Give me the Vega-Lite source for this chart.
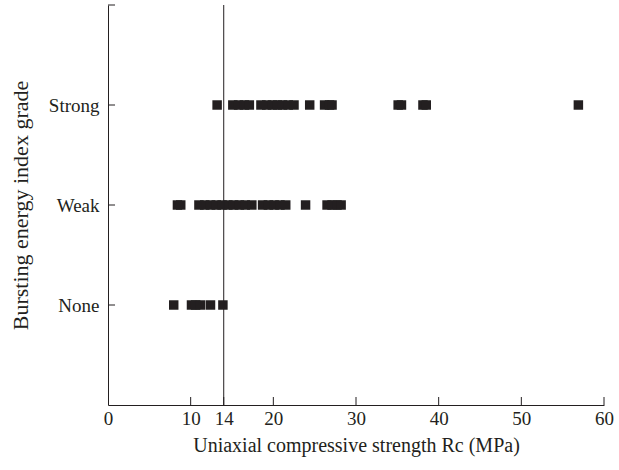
{
  "$schema": "https://vega.github.io/schema/vega-lite/v6.json",
  "width": 496,
  "height": 400,
  "autosize": {"type": "none"},
  "padding": {"left": 108, "top": 5, "right": 15, "bottom": 65},
  "background": "white",
  "config": {
    "view": {"stroke": null},
    "font": "Liberation Serif",
    "axis": {
      "domainColor": "#231f20",
      "labelColor": "#231f20",
      "titleColor": "#231f20",
      "grid": false,
      "ticks": false,
      "labelFont": "Liberation Serif",
      "titleFont": "Liberation Serif",
      "labelFontSize": 19,
      "titleFontSize": 20,
      "titleFontWeight": "normal"
    }
  },
  "layer": [
    {
      "data": {
        "values": [
          {"grade": 3, "rc": 13.2}, {"grade": 3, "rc": 15.1}, {"grade": 3, "rc": 15.8}, {"grade": 3, "rc": 16.5}, {"grade": 3, "rc": 17.1},
          {"grade": 3, "rc": 18.5}, {"grade": 3, "rc": 19.2}, {"grade": 3, "rc": 19.9}, {"grade": 3, "rc": 20.5}, {"grade": 3, "rc": 21.1},
          {"grade": 3, "rc": 21.8}, {"grade": 3, "rc": 22.5}, {"grade": 3, "rc": 24.4}, {"grade": 3, "rc": 26.2}, {"grade": 3, "rc": 26.8},
          {"grade": 3, "rc": 27.1}, {"grade": 3, "rc": 35.1}, {"grade": 3, "rc": 35.5}, {"grade": 3, "rc": 38.1}, {"grade": 3, "rc": 38.5},
          {"grade": 3, "rc": 56.9},
          {"grade": 2, "rc": 8.4}, {"grade": 2, "rc": 8.8}, {"grade": 2, "rc": 11.0}, {"grade": 2, "rc": 11.7}, {"grade": 2, "rc": 12.4},
          {"grade": 2, "rc": 13.1}, {"grade": 2, "rc": 13.8}, {"grade": 2, "rc": 14.5}, {"grade": 2, "rc": 15.2}, {"grade": 2, "rc": 15.9},
          {"grade": 2, "rc": 16.6}, {"grade": 2, "rc": 17.4}, {"grade": 2, "rc": 18.7}, {"grade": 2, "rc": 19.4}, {"grade": 2, "rc": 20.1},
          {"grade": 2, "rc": 20.8}, {"grade": 2, "rc": 21.5}, {"grade": 2, "rc": 23.9}, {"grade": 2, "rc": 26.5}, {"grade": 2, "rc": 27.1},
          {"grade": 2, "rc": 27.7}, {"grade": 2, "rc": 28.2},
          {"grade": 1, "rc": 7.95}, {"grade": 1, "rc": 10.1}, {"grade": 1, "rc": 10.6}, {"grade": 1, "rc": 11.2}, {"grade": 1, "rc": 12.4},
          {"grade": 1, "rc": 13.9}
        ]
      },
      "mark": {"type": "square", "size": 90, "filled": true, "opacity": 1, "color": "#231f20"},
      "encoding": {
        "x": {
          "field": "rc", "type": "quantitative",
          "scale": {"domain": [0, 60], "nice": false, "zero": true},
          "axis": {
            "values": [0, 10, 14, 20, 30, 40, 50, 60],
            "labelPadding": 4,
            "title": "Uniaxial compressive strength Rc (MPa)",
            "titlePadding": 7,
            "labelFlush": false
          }
        },
        "y": {
          "field": "grade", "type": "quantitative",
          "scale": {"domain": [0, 4], "nice": false},
          "axis": {
            "values": [1, 2, 3],
            "labelExpr": "datum.value == 1 ? 'None' : datum.value == 2 ? 'Weak' : datum.value == 3 ? 'Strong' : ''",
            "labelPadding": 9,
            "title": "Bursting energy index grade",
            "titleFontSize": 22,
            "titlePadding": 16
          }
        }
      }
    },
    {
      "data": {"values": [{"t": 10}, {"t": 14}, {"t": 20}, {"t": 30}, {"t": 40}, {"t": 50}, {"t": 60}]},
      "mark": {"type": "rule", "color": "#231f20", "strokeWidth": 1},
      "encoding": {
        "x": {"field": "t", "type": "quantitative"},
        "y": {"datum": 0, "type": "quantitative"},
        "y2": {"datum": 0.08}
      }
    },
    {
      "data": {"values": [{"t": 1}, {"t": 2}, {"t": 3}, {"t": 4}]},
      "mark": {"type": "rule", "color": "#231f20", "strokeWidth": 1},
      "encoding": {
        "y": {"field": "t", "type": "quantitative"},
        "x": {"datum": 0, "type": "quantitative"},
        "x2": {"datum": 0.85}
      }
    },
    {
      "data": {"values": [{"v": 14}]},
      "mark": {"type": "rule", "color": "#231f20", "strokeWidth": 1},
      "encoding": {"x": {"field": "v", "type": "quantitative"}}
    }
  ]
}
